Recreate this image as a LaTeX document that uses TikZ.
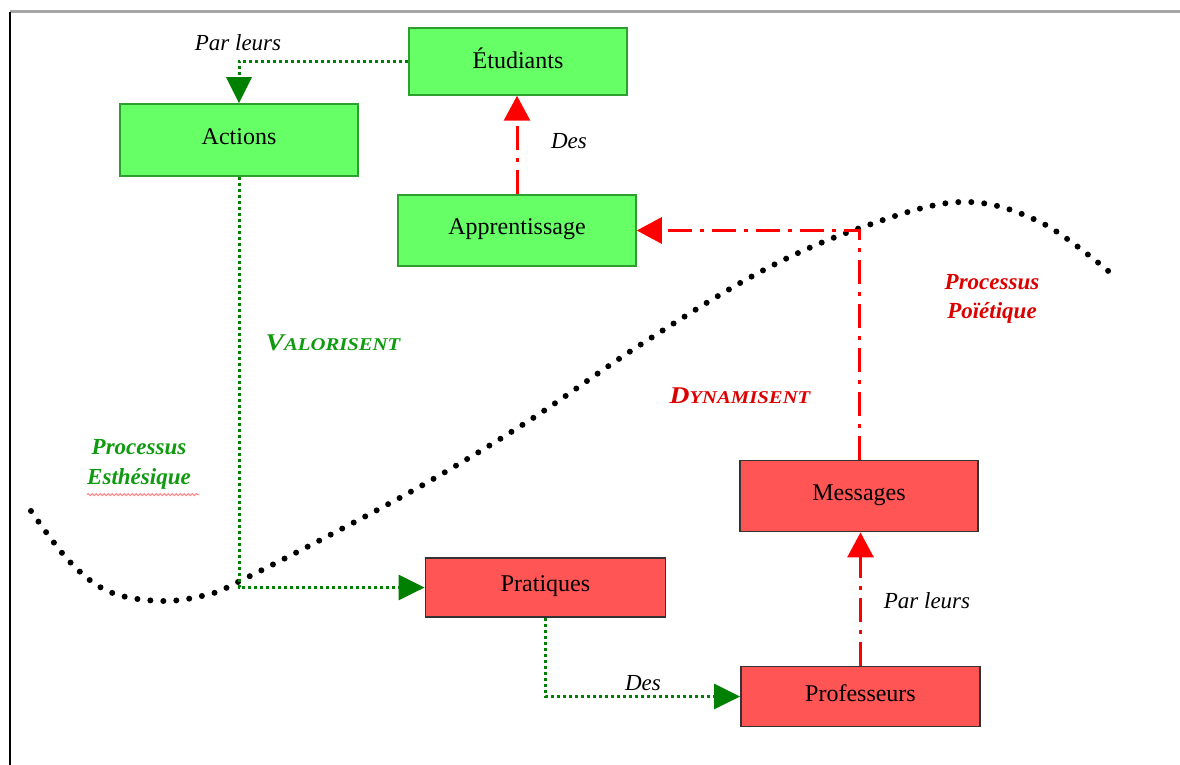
\documentclass[tikz,border=0pt]{standalone}
\usepackage{fontspec}
\setmainfont{Liberation Serif}
\usetikzlibrary{arrows.meta,decorations.pathmorphing}
\definecolor{boxgreen}{HTML}{66FF66}
\definecolor{boxgreenline}{HTML}{2E9E2E}
\definecolor{boxred}{HTML}{FF5555}
\definecolor{boxredline}{HTML}{333333}
\definecolor{conngreen}{HTML}{008000}
\definecolor{connred}{HTML}{FF0000}
\definecolor{labgreen}{HTML}{109A10}
\definecolor{labred}{HTML}{DD0000}
\definecolor{squiggle}{HTML}{FF8888}
\tikzset{
  gbox/.style={draw=boxgreenline, fill=boxgreen, line width=1.5pt, inner sep=0pt, text depth=7pt, font=\fontsize{24}{28}\selectfont},
  rbox/.style={draw=boxredline, fill=boxred, line width=1.8pt, inner sep=0pt, text depth=7pt, font=\fontsize{24}{28}\selectfont},
  gconn/.style={conngreen, line width=3pt, dash pattern=on 3pt off 3pt, -{Triangle[length=26pt,width=25pt]}},
  rconn/.style={connred, line width=3pt, dash pattern=on 24pt off 8pt on 4pt off 8pt, -{Triangle[length=25pt,width=26pt]}},
  elab/.style={font=\fontsize{23}{27}\selectfont\itshape, inner sep=0pt},
  glab/.style={font=\fontsize{23}{27}\selectfont\bfseries\itshape, text=labgreen, inner sep=0pt},
  rlab/.style={font=\fontsize{23}{27}\selectfont\bfseries\itshape, text=labred, inner sep=0pt},
}
\newcommand{\smcap}[2]{\scalebox{1.15}[1]{{\fontsize{24}{28}\selectfont #1}{\fontsize{18}{22}\selectfont #2}}}
\begin{document}
\begin{tikzpicture}[x=1pt,y=-1pt]
\useasboundingbox (0,0) rectangle (1180,765);
% frame
\draw[gray!70, line width=3pt] (10,12) -- (1180,12);
\draw[black, line width=1.5pt] (10,12) -- (10,765);
% curve
\draw[black, line width=6pt, line cap=round, dash pattern=on 0pt off 13pt]
  plot[smooth, tension=0.6] coordinates {(31,511) (70,562) (110,592) (163,601) (210,594) (240,581) (330,535) (428,482) (530,420) (640,345) (760,272) (860,228) (960,202) (1040,222) (1113,275)};
% boxes
\node[gbox, minimum width=218pt, minimum height=67pt] (etud) at (518,61.5) {Étudiants};
\node[gbox, minimum width=238pt, minimum height=72pt] (act) at (239,140) {Actions};
\node[gbox, minimum width=238pt, minimum height=71pt] (app) at (517,230.5) {Apprentissage};
\node[rbox, minimum width=238pt, minimum height=71pt] (mess) at (859,496) {Messages};
\node[rbox, minimum width=240pt, minimum height=59pt] (prat) at (545.5,587.5) {Pratiques};
\node[rbox, minimum width=239pt, minimum height=60pt] (prof) at (860.5,696.5) {Professeurs};
% connectors
\draw[gconn] (etud.west) -| (act.north);
\draw[gconn] (act.south) |- (prat.west);
\draw[gconn] (prat.south) |- (prof.west);
\draw[rconn] (prof.north) -- (prof.north |- mess.south);
\draw[rconn] (mess.north) |- (app.east);
\draw[rconn] (app.north) -- (app.north |- etud.south);
% labels
\node[elab] (l1) at (238,43) {Par leurs};
\node[elab] (l2) at (569,141) {Des};
\node[elab] (l3) at (643,683) {Des};
\node[elab] (l4) at (927,601) {Par leurs};
\node[glab] (pe1) at (139,447) {Processus};
\node[glab] (pe2) at (139,479) {Esthésique};
\draw[squiggle, line width=1pt, decorate, decoration={snake, amplitude=1pt, segment length=4pt}] (pe2.south west) ++(0,5) -- ++(112,0);
\node[rlab] (pp1) at (992,282) {Processus};
\node[rlab] (pp2) at (992,313) {Poïétique};
\node[glab] (val) at (333,343) {\smcap{V}{ALORISENT}};
\node[rlab] (dyn) at (740,396) {\smcap{D}{YNAMISENT}};
\end{tikzpicture}
\end{document}
